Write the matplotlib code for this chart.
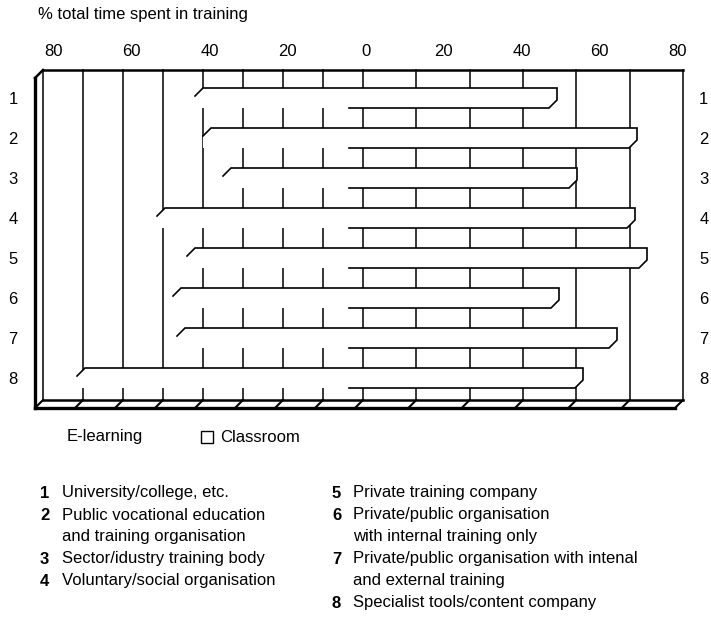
import numpy as np
import matplotlib
matplotlib.use("Agg")
import matplotlib.pyplot as plt
from matplotlib.patches import Polygon, Rectangle

plt.rcParams['font.family'] = ['Liberation Sans Narrow', 'Liberation Sans', 'DejaVu Sans']

#%% data
rows = [1, 2, 3, 4, 5, 6, 7, 8]
elearning = [40, 38, 33, 49.5, 42, 45.5, 44.5, 69.5]   # % of time, drawn to the left
classroom = [48.5, 68.5, 53.5, 68, 71, 49, 63.5, 55]  # % of time, drawn to the right
tick_vals = [-80, -60, -40, -20, 0, 20, 40, 60, 80]
tick_text = ['80', '60', '40', '20', '0', '20', '40', '60', '80']
org_num = ['1', '2', '3', '4', '5', '6', '7', '8']
org_text = ['University/college, etc.',
            'Public vocational education\nand training organisation',
            'Sector/idustry training body',
            'Voluntary/social organisation',
            'Private training company',
            'Private/public organisation\nwith internal training only',
            'Private/public organisation with intenal\nand external training',
            'Specialist tools/content company']

#%% layout
W, H = 711, 630
fig = plt.figure(figsize=(W / 100, H / 100), dpi=100)
ax = fig.add_axes([43 / W, 1 - 400 / H, 640 / W, 330 / H])
ytop, ybot = 0.3, 8.55
ax.set_xlim(-80, 80)
ax.set_ylim(ybot, ytop)
ax.axis('off')

dx, dy = 2.0, 0.2   # depth offset of the 3d look (data units)
half = 0.25         # half bar height
fs = 12

# vertical gridlines (left 10 steps, right 40/3 steps like the original)
grid_left = np.arange(-80, 1, 10)
grid_right = np.arange(1, 7) * 40 / 3
for gx in np.concatenate([grid_left, grid_right]):
    ax.plot([gx, gx], [ytop, ybot], color='k', lw=1.1, zorder=1, clip_on=False)

# frame: back top, left wall, floor
ax.plot([-80, 80], [ytop, ytop], color='k', lw=1.8, zorder=1, clip_on=False)
ax.plot([-80 - dx, -80 - dx], [ytop + dy, ybot + dy], color='k', lw=2.4, zorder=4, clip_on=False)
ax.plot([-80 - dx, -80], [ytop + dy, ytop], color='k', lw=1.8, zorder=4, clip_on=False)
ax.plot([-80, 80], [ybot, ybot], color='k', lw=1.8, zorder=4, clip_on=False)
ax.plot([-80 - dx, 80 - dx], [ybot + dy, ybot + dy], color='k', lw=2.4, zorder=4, clip_on=False)
for gx in np.concatenate([grid_left, grid_right]):
    ax.plot([gx, gx - dx], [ybot, ybot + dy], color='k', lw=1.5, zorder=4, clip_on=False)

# bars
for r, el, cl in zip(rows, elearning, classroom):
    top, bot = r - half, r + half
    L = -el
    pts = [(L - dx, bot), (L - dx, top + dy), (L, top), (cl, top),
           (cl, bot - dy), (cl - dx, bot)]
    ax.add_patch(Polygon(pts, closed=True, facecolor='white', edgecolor='none', zorder=2))
    outline = [(L - dx, top + dy), (L, top), (cl, top), (cl, bot - dy),
               (cl - dx, bot), (-dx - 1.5, bot)]
    xs, ys = zip(*outline)
    ax.plot(xs, ys, color='k', lw=1.2, zorder=3, solid_joinstyle='miter')

# axis labels
for v, t in zip(tick_vals, tick_text):
    ax.text(v * 0.975 + 0.7, -0.175, t, ha='center', va='center', fontsize=fs)
for r in rows:
    ax.text(-87.5, r + 0.05, str(r), ha='center', va='center', fontsize=fs)
    ax.text(85.2, r + 0.05, str(r), ha='center', va='center', fontsize=fs)

fig.text(38 / W, 1 - 15 / H, '% total time spent in training', ha='left', va='center', fontsize=fs)

# legend
fig.text(67 / W, 1 - 437 / H, 'E-learning', ha='left', va='center', fontsize=fs)
fig.patches.append(Rectangle((201 / W, 1 - 443 / H), 12 / W, 12 / H, transform=fig.transFigure,
                             facecolor='white', edgecolor='k', lw=1))
fig.text(220 / W, 1 - 437 / H, 'Classroom', ha='left', va='center', fontsize=fs)

# footnote list
line_h = 22
y0 = 493
col_x = [(40, 62), (332, 353)]
slots = [0, 1, 3, 4, 0, 1, 3, 5]
for i, (n, t) in enumerate(zip(org_num, org_text)):
    nx, tx = col_x[0] if i < 4 else col_x[1]
    yy = y0 + slots[i] * line_h
    fig.text(nx / W, 1 - yy / H, n, ha='left', va='center', fontsize=fs, fontweight='bold')
    for k, part in enumerate(t.split('\n')):
        fig.text(tx / W, 1 - (yy + k * line_h) / H, part, ha='left', va='center', fontsize=fs)

fig.savefig('out.png', dpi=100)
